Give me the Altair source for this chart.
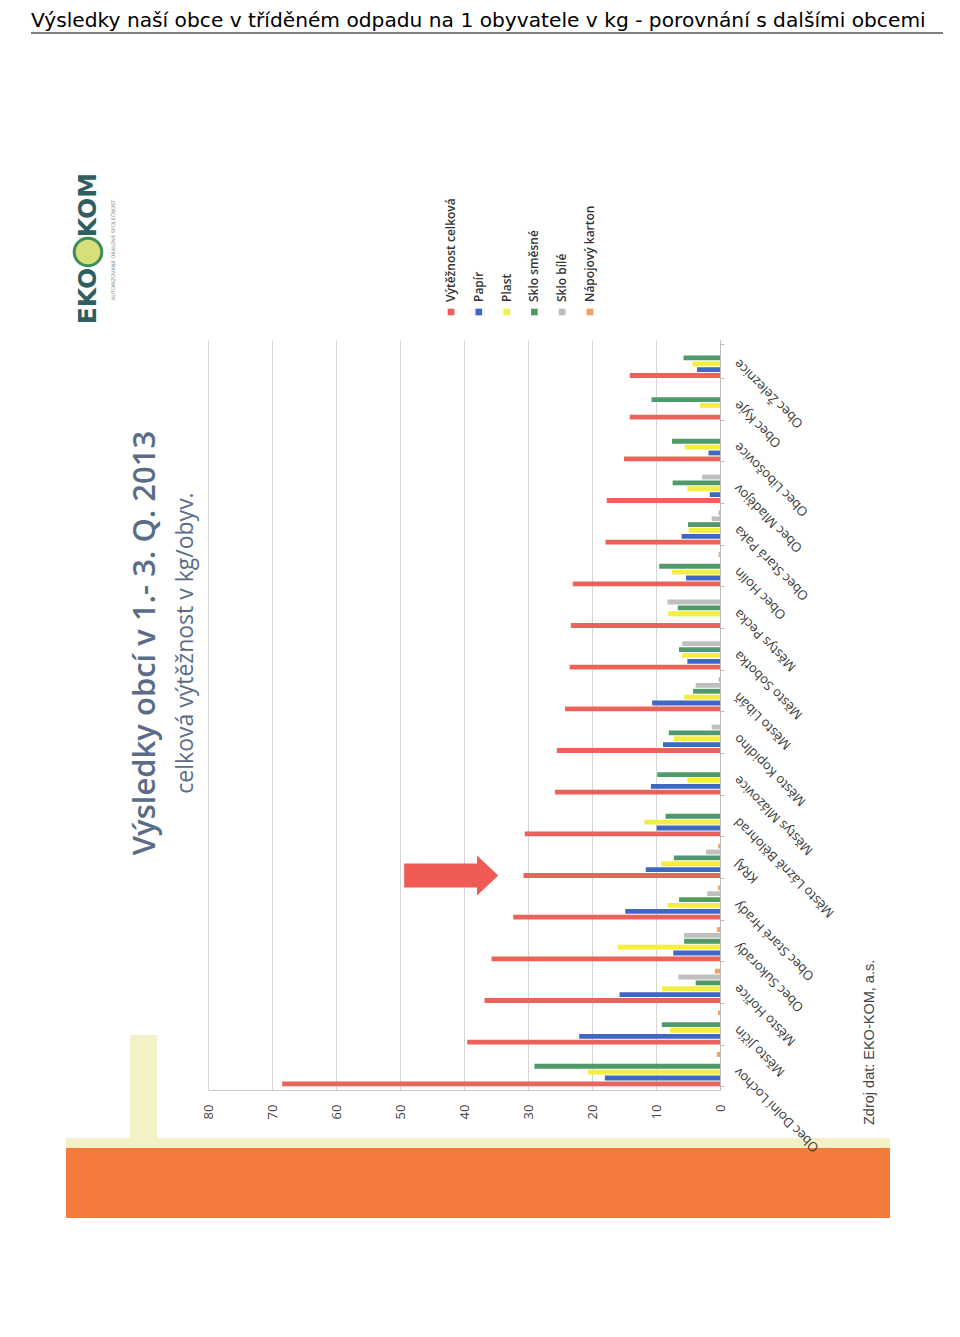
import altair as alt
import pandas as pd

# ---------------- data ----------------
categories = [
    "Obec Dolní Lochov", "Město Jičín", "Město Hořice", "Obec Sukorady",
    "Obec Staré Hrady", "KRAJ", "Město Lázně Bělohrad", "Městys Mlázovice",
    "Město Kopidlno", "Město Libáň", "Město Sobotka", "Městys Pecka",
    "Obec Holín", "Obec Stará Paka", "Obec Mladějov", "Obec Libošovice",
    "Obec Kyje", "Obec Železnice",
]
series = ["Výtěžnost celková", "Papír", "Plast", "Sklo směsné", "Sklo bílé", "Nápojový karton"]
colors = ["#EA6259", "#3F67C4", "#F4EF3E", "#4F9A68", "#BFBFBF", "#F2A264"]

vyteznost_celkova = [68.4, 39.5, 36.8, 35.7, 32.3, 30.7, 30.5, 25.8, 25.5, 24.2, 23.5, 23.3, 23.0, 17.9, 17.7, 15.0, 14.1, 14.1]
papir = [18.0, 22.0, 15.7, 7.3, 14.8, 11.6, 9.9, 10.8, 8.9, 10.6, 5.1, 0.0, 5.3, 6.0, 1.6, 1.8, 0.0, 3.6]
plast = [20.6, 7.8, 9.1, 16.0, 8.2, 9.2, 11.8, 5.1, 7.2, 5.6, 5.9, 8.1, 7.5, 4.9, 5.1, 5.5, 3.1, 4.3]
sklo_smesne = [29.0, 9.1, 3.8, 5.6, 6.4, 7.2, 8.5, 9.8, 8.0, 4.2, 6.4, 6.6, 9.5, 5.0, 7.4, 7.5, 10.7, 5.7]
sklo_bile = [0.0, 0.0, 6.5, 5.6, 2.0, 2.2, 0.0, 0.0, 1.3, 3.8, 5.9, 8.2, 0.0, 1.3, 2.8, 0.0, 0.0, 0.0]
napojovy_karton = [0.5, 0.3, 0.8, 0.5, 0.3, 0.3, 0.0, 0.0, 0.0, 0.2, 0.0, 0.0, 0.2, 0.2, 0.0, 0.0, 0.0, 0.0]

value_ticks = [0, 10, 20, 30, 40, 50, 60, 70, 80]

header_text = "Výsledky naší obce v tříděném odpadu na 1 obyvatele v kg  - porovnání s dalšími obcemi"
title_text = "Výsledky obcí v 1.- 3. Q. 2013"
subtitle_text = "celková výtěžnost v kg/obyv."
source_text = "Zdroj dat: EKO-KOM, a.s."
highlight_category = "KRAJ"
arrow_value = 42.0

all_series = [vyteznost_celkova, papir, plast, sklo_smesne, sklo_bile, napojovy_karton]
rows = []
for s_name, vals in zip(series, all_series):
    for c, v in zip(categories, vals):
        rows.append({"category": c, "series": s_name, "value": v})
df = pd.DataFrame(rows)

# ---------------- layout helpers ----------------
W, H = 512, 750
one = alt.InlineData(values=[{}])

value_scale = alt.Scale(domain=[0, 80], reverse=True, nice=False, zero=True)
cat_scale = alt.Scale(paddingInner=0.18, paddingOuter=0.09)
off_scale = alt.Scale(paddingInner=0.18)
color_scale = alt.Scale(domain=series, range=colors)

x_enc = alt.X(
    "value:Q", scale=value_scale, title=None,
    axis=alt.Axis(values=value_ticks, labelAngle=270, labelAlign="right", labelBaseline="middle",
                  labelFont="Open Sans", labelFontSize=13, labelColor="#404040",
                  labelPadding=14, ticks=False, grid=True, gridColor="#d6d6d6",
                  domain=True, domainColor="#c8c8c8"),
)
y_enc = alt.Y(
    "category:N", sort=categories[::-1], scale=cat_scale, title=None,
    axis=alt.Axis(orient="right", labelAngle=225, labelAlign="right", labelBaseline="middle",
                  labelFont="Open Sans", labelFontSize=13, labelColor="#383838",
                  labelPadding=12, labelLimit=300, tickBand="extent", ticks=True, tickSize=4,
                  tickColor="#bdbdbd", domain=True, domainColor="#bdbdbd", grid=False, zindex=1),
)
off_enc = alt.YOffset("series:N", sort=series[::-1], scale=off_scale)

bars = alt.Chart(df).mark_bar(opacity=1, strokeWidth=0).encode(
    x=x_enc, y=y_enc, yOffset=off_enc,
    color=alt.Color("series:N", scale=color_scale, legend=None),
)

arrow_df = pd.DataFrame({"category": [highlight_category], "series": [series[0]], "value": [arrow_value]})
ARROW = "M -1 -0.255 L 0.55 -0.255 L 0.55 -0.425 L 1 0 L 0.55 0.425 L 0.55 0.255 L -1 0.255 Z"
arrow = alt.Chart(arrow_df).mark_point(shape=ARROW, filled=True, size=8836, color="#EF5A55",
                                       opacity=1, strokeWidth=0).encode(
    x=x_enc, y=y_enc, yOffset=off_enc,
)

main = alt.layer(bars, arrow)

# legend (rotated, manual)
legend_df = pd.DataFrame({"series": series})
leg_x = alt.X("series:N", sort=series,
              scale=alt.Scale(type="point", domain=series, range=[243, 382], padding=0), axis=None)
legend_sw = alt.Chart(legend_df).mark_square(size=45, opacity=1).encode(
    x=leg_x, y=alt.value(-28),
    color=alt.Color("series:N", scale=color_scale, legend=None),
)
legend_tx = alt.Chart(legend_df).mark_text(angle=270, align="left", baseline="middle",
                                           font="Open Sans", fontSize=12, fontWeight=600,
                                           color="#333333").encode(
    x=leg_x, y=alt.value(-38), text="series:N",
)
legend = alt.layer(legend_sw, legend_tx)

# decorative page elements
def txt(t, x, y, **kw):
    return alt.Chart(one).mark_text(text=t, **kw).encode(x=alt.value(x), y=alt.value(y))

def rect(x, x2, y, y2, col):
    return alt.Chart(one).mark_rect(color=col, opacity=1).encode(
        x=alt.value(x), x2=alt.value(x2), y=alt.value(y), y2=alt.value(y2))

header = txt(header_text, -177, -319, align="left", baseline="middle", font="DejaVu Sans",
             fontSize=20.2, color="#000000")
underline = alt.Chart(one).mark_rule(color="#000000", strokeWidth=1).encode(
    x=alt.value(-177), x2=alt.value(735), y=alt.value(-307))

title = txt(title_text, -62, 303, angle=270, align="center", baseline="middle",
            font="Open Sans", fontSize=31, fontWeight=600, color="#5A6C86")
subtitle = txt(subtitle_text, -22, 303, angle=270, align="center", baseline="middle",
               font="Open Sans", fontSize=23, color="#5A6C86")
source = txt(source_text, 662, 785, angle=270, align="left", baseline="middle",
             font="Liberation Sans", fontSize=14.5, color="#444444")

logo_eko = txt("EKO", -120, -44, angle=270, align="center", baseline="middle",
               font="DejaVu Sans", fontSize=25, fontWeight="bold", color="#2F5E5E")
logo_kom = txt("KOM", -120, -135, angle=270, align="center", baseline="middle",
               font="DejaVu Sans", fontSize=25, fontWeight="bold", color="#2F5E5E")
logo_circle = alt.Chart(one).mark_point(shape="circle", filled=True, size=760, color="#D6DF7A",
                                        opacity=1, stroke="#3E8E5A", strokeWidth=3).encode(
    x=alt.value(-120), y=alt.value(-88))
logo_small = txt("AUTORIZOVANÁ OBALOVÁ SPOLEČNOST", -95, -90, angle=270, align="center",
                 baseline="middle", font="DejaVu Sans", fontSize=5, color="#7a8a8a")

orange_block = rect(-142, 682, 808, 878, "#F47B3B")
yellow_strip = rect(-142, 682, 798, 808, "#F4F0C8")
yellow_post = rect(-78, -51, 695, 798, "#F4F0C8")

chart = alt.layer(
    yellow_post, yellow_strip, orange_block,
    main, legend,
    header, underline, title, subtitle, source,
    logo_circle, logo_eko, logo_kom, logo_small,
).resolve_scale(x="independent").properties(
    width=W, height=H,
    autosize=alt.AutoSizeParams(type="none"),
    padding={"left": 200, "top": 332, "right": 232, "bottom": 223},
    background="white",
).configure_view(stroke=None)

chart.save("out.html", embed_options={"renderer": "svg", "actions": False})
